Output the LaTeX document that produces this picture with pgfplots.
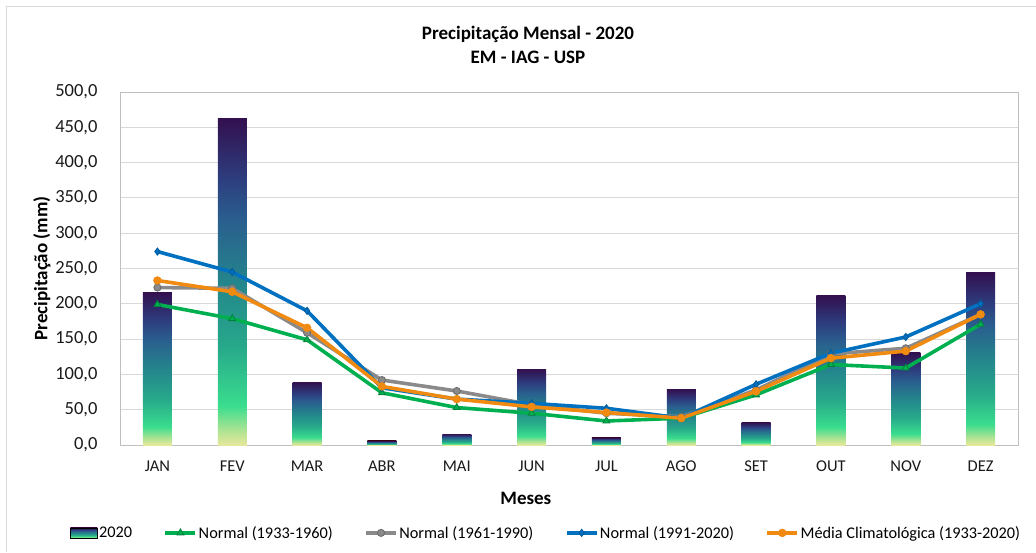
\documentclass[border=0pt]{standalone}
\usepackage{pgfplots}
\pgfplotsset{compat=1.18}
\usepackage{fontspec}
\setmainfont{Carlito}
\definecolor{v0}{HTML}{E6E89C}
\definecolor{v1}{HTML}{B4E493}
\definecolor{v2}{HTML}{3ADD8E}
\definecolor{v3}{HTML}{27A98A}
\definecolor{v4}{HTML}{24858C}
\definecolor{v5}{HTML}{2A5C8E}
\definecolor{v6}{HTML}{2D3C7D}
\definecolor{v7}{HTML}{33104F}
\pgfdeclareverticalshading{viridisbar}{100bp}{color(0bp)=(v0); color(25bp)=(v0); color(27bp)=(v1); color(31bp)=(v2); color(40bp)=(v3); color(50bp)=(v4); color(60bp)=(v5); color(66bp)=(v6); color(75bp)=(v7); color(100bp)=(v7)}
\definecolor{cgreen}{HTML}{00B050}
\definecolor{cgreend}{HTML}{00803A}
\definecolor{cgray}{HTML}{8A8A8A}
\definecolor{cgrayd}{HTML}{6A6A6A}
\definecolor{cblue}{HTML}{0070C0}
\definecolor{cblued}{HTML}{005A9A}
\definecolor{corange}{HTML}{F08A10}
\definecolor{gridc}{HTML}{D9D9D9}
\definecolor{framec}{HTML}{BFBFBF}
\begin{document}
\begin{tikzpicture}[x=1pt,y=1pt]
\useasboundingbox (0,0) rectangle (1036,552);
\draw[gridc, line width=1pt] (6,0) -- (6,545) -- (1036,545);
\node[align=center, font=\fontsize{19}{24}\selectfont\bfseries] at (528,507) {Precipitação Mensal - 2020\\EM - IAG - USP};
\begin{axis}[
  at={(120pt,107pt)}, anchor=south west,
  scale only axis, width=898pt, height=353pt,
  xmin=-0.5, xmax=11.5, ymin=0, ymax=500,
  xtick={0,...,11},
  xticklabels={JAN,FEV,MAR,ABR,MAI,JUN,JUL,AGO,SET,OUT,NOV,DEZ},
  ytick={0,50,...,500},
  major tick length=0pt,
  ymajorgrids, grid style={gridc, line width=1pt},
  axis line style={framec, line width=1pt},
  /pgf/number format/.cd, fixed, fixed zerofill, precision=1, use comma, 1000 sep={}, assume math mode=true,
  /pgfplots/.cd,
  yticklabel style={font=\fontsize{18.5}{20}\selectfont, color=black!90, xshift=-19pt},
  xticklabel style={font=\fontsize{16.5}{18}\selectfont, color=black!90, yshift=-12pt},
  xlabel={Meses}, ylabel={Precipitação (mm)},
  every axis x label/.style={at={(axis description cs:0.452,-0.152)}, anchor=center, font=\fontsize{19}{22}\selectfont\bfseries},
  every axis y label/.style={at={(axis description cs:-0.087,0.5)}, rotate=90, anchor=center, font=\fontsize{19}{22}\selectfont\bfseries},
  legend columns=5,
  legend style={at={(axis description cs:-0.0557,-0.249)}, anchor=west, draw=none, fill=none,
    font=\fontsize{16.3}{18}\selectfont, inner sep=0pt,
    nodes={inner sep=1.5pt},
    /tikz/every even column/.append style={column sep=30pt}},
  legend image code/.code={\draw[#1] (0pt,0pt) -- (30pt,0pt); \draw[#1, only marks] plot coordinates {(15pt,0pt)};},
]
\addplot[ybar, bar width=29pt, draw=none, shading=viridisbar, forget plot] coordinates {(0,216.5)};
\addplot[ybar, bar width=29pt, draw=none, shading=viridisbar, forget plot] coordinates {(1,463)};
\addplot[ybar, bar width=29pt, draw=none, shading=viridisbar, forget plot] coordinates {(2,89)};
\addplot[ybar, bar width=29pt, draw=none, shading=viridisbar, forget plot] coordinates {(3,5.7)};
\addplot[ybar, bar width=29pt, draw=none, shading=viridisbar, forget plot] coordinates {(4,15.5)};
\addplot[ybar, bar width=29pt, draw=none, shading=viridisbar, forget plot] coordinates {(5,107.5)};
\addplot[ybar, bar width=29pt, draw=none, shading=viridisbar, forget plot] coordinates {(6,10)};
\addplot[ybar, bar width=29pt, draw=none, shading=viridisbar, forget plot] coordinates {(7,79)};
\addplot[ybar, bar width=29pt, draw=none, shading=viridisbar, forget plot] coordinates {(8,31.5)};
\addplot[ybar, bar width=29pt, draw=none, shading=viridisbar, forget plot] coordinates {(9,212)};
\addplot[ybar, bar width=29pt, draw=none, shading=viridisbar, forget plot] coordinates {(10,131)};
\addplot[ybar, bar width=29pt, draw=none, shading=viridisbar, forget plot] coordinates {(11,245)};
\addlegendimage{legend image code/.code={\shade[shading=viridisbar] (0pt,-5pt) rectangle (27pt,5pt);}}
\addlegendentry{2020}
\addplot[cgreen, line width=3.6pt, mark=triangle*, mark size=4pt, mark options={fill=cgreen, draw=cgreend, line width=0.8pt}]
  coordinates {(0,199) (1,179) (2,149) (3,74) (4,53) (5,45) (6,34) (7,38) (8,71) (9,114) (10,109) (11,171)};
\addlegendentry{Normal (1933-1960)}
\addplot[cgray, line width=3.6pt, mark=*, mark size=3.6pt, mark options={fill=cgray, draw=cgrayd, line width=0.8pt}]
  coordinates {(0,223) (1,222) (2,159) (3,92) (4,76.5) (5,57) (6,45) (7,40) (8,78) (9,129) (10,137) (11,185)};
\addlegendentry{Normal (1961-1990)}
\addplot[cblue, line width=3.6pt, mark=diamond*, mark size=3.6pt, mark options={fill=cblue, draw=cblued, line width=0.8pt}]
  coordinates {(0,274) (1,245) (2,190) (3,81) (4,65) (5,59) (6,52) (7,38) (8,86) (9,130) (10,153) (11,200)};
\addlegendentry{Normal (1991-2020)}
\addplot[corange, line width=3.6pt, mark=*, mark size=3.8pt, mark options={fill=corange, draw=corange, line width=0.8pt}]
  coordinates {(0,233) (1,217) (2,166) (3,83) (4,65) (5,54) (6,46) (7,38) (8,76) (9,123) (10,133) (11,185)};
\addlegendentry{Média Climatológica (1933-2020)}
\end{axis}
\end{tikzpicture}
\end{document}
